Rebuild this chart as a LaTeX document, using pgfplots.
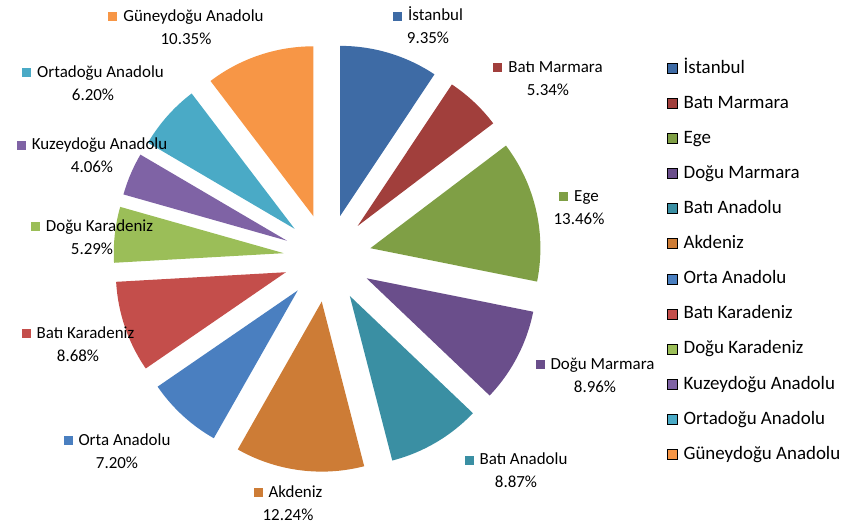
\documentclass[border=0pt]{standalone}
\usepackage{pgfplots}
\pgfplotsset{compat=1.18}
\usepackage{fontspec}
\setmainfont{Carlito}
\definecolor{cIst}{HTML}{3E6BA5}
\definecolor{cBMar}{HTML}{A13F3C}
\definecolor{cEge}{HTML}{7F9F45}
\definecolor{cDMar}{HTML}{6A4E8B}
\definecolor{cBAna}{HTML}{3A8FA3}
\definecolor{cAkd}{HTML}{CD7C36}
\definecolor{cOrta}{HTML}{4A7FC0}
\definecolor{cBKar}{HTML}{C44E4B}
\definecolor{cDKar}{HTML}{9BBE58}
\definecolor{cKuz}{HTML}{7F63A5}
\definecolor{cOrtd}{HTML}{4AAAC6}
\definecolor{cGun}{HTML}{F79646}
\def\cum{0}
% pie centre (px coords, y up), explosion distance, radius
\def\pcx{327.5}\def\pcy{271}\def\pex{44}\def\prad{170}
\newcommand{\slice}[2]{%
  \pgfmathsetmacro\aone{90-3.6*\cum}%
  \pgfmathsetmacro\atwo{90-3.6*(\cum+#1)}%
  \pgfmathsetmacro\amid{(\aone+\atwo)/2}%
  \pgfmathsetmacro\scx{\pcx+\pex*cos(\amid)}%
  \pgfmathsetmacro\scy{\pcy+\pex*sin(\amid)}%
  \edef\tmp{\noexpand\addplot[forget plot, fill=#2, draw=none, domain=\atwo:\aone, samples=72, variable=\noexpand\t]
    ({\scx+\prad*cos(\noexpand\t)},{\scy+\prad*sin(\noexpand\t)}) -- (axis cs:\scx,\scy) -- cycle;}%
  \tmp
  \pgfmathsetmacro\newcum{\cum+#1}\global\let\cum\newcum
}
\newcommand{\lab}{\fontsize{17}{23}\selectfont}
\newcommand{\plabel}[5]{%
  \node[align=center, font=\lab, inner sep=0pt] at (axis cs:#1,#2)
    {\textcolor{#3}{\rule{9bp}{9bp}}\hspace{6bp}#4\\#5\%};%
}
\pgfplotsset{sq/.style={legend image code/.code={\path[##1] (0bp,-5bp) rectangle (10bp,5bp);}}}
\begin{document}
\begin{tikzpicture}
\begin{axis}[
  width=849bp, height=529bp, scale only axis,
  xmin=0, xmax=849, ymin=0, ymax=529,
  hide axis,
  legend style={at={(axis cs:667,470)}, anchor=north west, draw=none, fill=none,
    font=\fontsize{19}{22}\selectfont, row sep=17.1bp, column sep=6bp,
    inner sep=0pt, legend cell align=left,
    nodes={inner sep=0bp, text height=14bp, text depth=4bp}},
]
\slice{9.35}{cIst}
\slice{5.34}{cBMar}
\slice{13.46}{cEge}
\slice{8.96}{cDMar}
\slice{8.87}{cBAna}
\slice{12.24}{cAkd}
\slice{7.20}{cOrta}
\slice{8.68}{cBKar}
\slice{5.29}{cDKar}
\slice{4.06}{cKuz}
\slice{6.20}{cOrtd}
\slice{10.35}{cGun}
\plabel{428}{503.5}{cIst}{İstanbul}{9.35}
\plabel{548}{450.5}{cBMar}{Batı Marmara}{5.34}
\plabel{579}{321.5}{cEge}{Ege}{13.46}
\plabel{595}{154}{cDMar}{Doğu Marmara}{8.96}
\plabel{516}{58.5}{cBAna}{Batı Anadolu}{8.87}
\plabel{288}{26}{cAkd}{Akdeniz}{12.24}
\plabel{117}{78}{cOrta}{Orta Anadolu}{7.20}
\plabel{78}{185}{cBKar}{Batı Karadeniz}{8.68}
\plabel{92}{292}{cDKar}{Doğu Karadeniz}{5.29}
\plabel{92}{373.5}{cKuz}{Kuzeydoğu Anadolu}{4.06}
\plabel{93}{446}{cOrtd}{Ortadoğu Anadolu}{6.20}
\plabel{186}{502}{cGun}{Güneydoğu Anadolu}{10.35}
\addlegendimage{sq, fill=cIst}
\addlegendimage{sq, fill=cBMar}
\addlegendimage{sq, fill=cEge}
\addlegendimage{sq, fill=cDMar}
\addlegendimage{sq, fill=cBAna}
\addlegendimage{sq, fill=cAkd}
\addlegendimage{sq, fill=cOrta}
\addlegendimage{sq, fill=cBKar}
\addlegendimage{sq, fill=cDKar}
\addlegendimage{sq, fill=cKuz}
\addlegendimage{sq, fill=cOrtd}
\addlegendimage{sq, fill=cGun}
\legend{İstanbul, Batı Marmara, Ege, Doğu Marmara, Batı Anadolu, Akdeniz, Orta Anadolu, Batı Karadeniz, Doğu Karadeniz, Kuzeydoğu Anadolu, Ortadoğu Anadolu, Güneydoğu Anadolu}
\end{axis}
\pgfresetboundingbox
\path (0,0) rectangle (849bp,529bp);
\end{tikzpicture}
\end{document}
